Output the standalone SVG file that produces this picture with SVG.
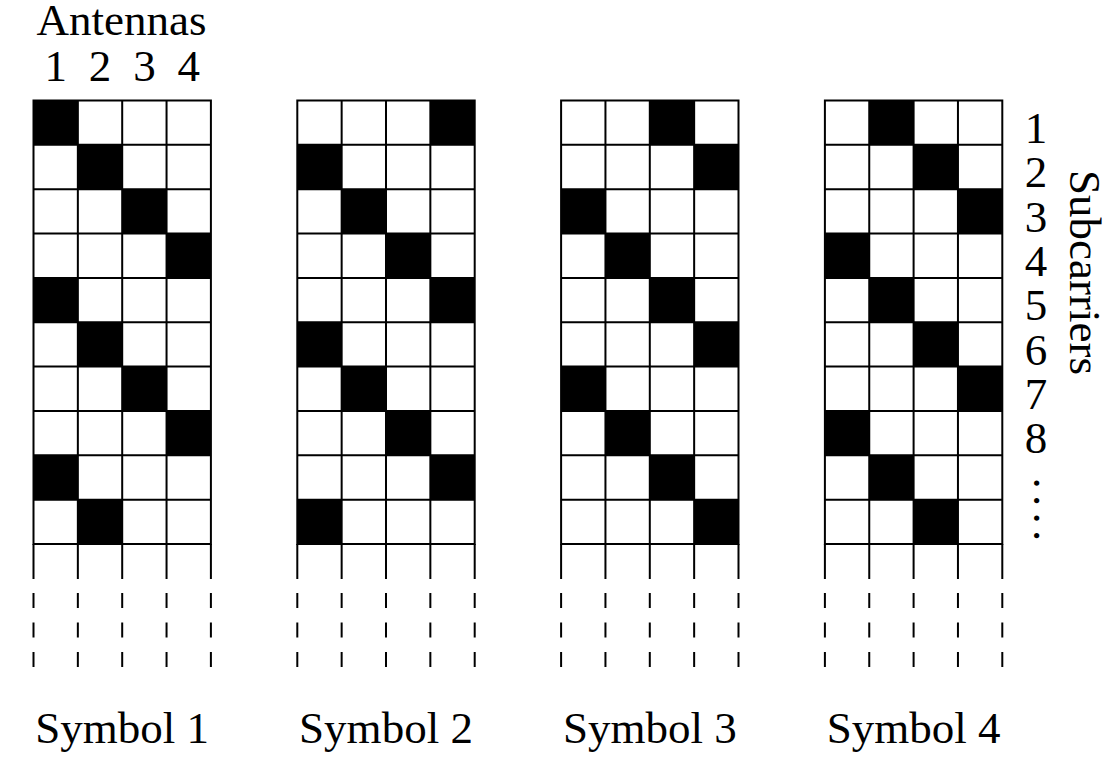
<svg xmlns="http://www.w3.org/2000/svg" xmlns:xlink="http://www.w3.org/1999/xlink" width="1114" height="762" viewBox="0 0 1114 762">
<style>
  .t { font-family: "Liberation Serif", "Times New Roman", serif; font-size: 45px; fill: #000; }
  .m { text-anchor: middle; }
  .ln { stroke: #000; stroke-width: 2; fill: none; }
  .dash { stroke: #000; stroke-width: 2; fill: none; stroke-dasharray: 35 14 15 14.5 15 14.5 15 200; }
  .on { fill: #000; }
</style>
<defs>
  <g id="gridLines">
    <rect class="ln" x="0" y="0" width="177.4" height="443.5"/>
    <path class="ln" d="M44.35,0V443.5M88.7,0V443.5M133.05,0V443.5
      M0,44.35H177.4M0,88.7H177.4M0,133.05H177.4M0,177.4H177.4M0,221.75H177.4
      M0,266.1H177.4M0,310.45H177.4M0,354.8H177.4M0,399.15H177.4"/>
    <path class="dash" d="M0,443.5V566.5M44.35,443.5V566.5M88.7,443.5V566.5M133.05,443.5V566.5M177.4,443.5V566.5"/>
  </g>
  <rect id="cell" width="44.35" height="44.35"/>
</defs>
<rect width="1114" height="762" fill="#fff"/>

<g id="antennas-label">
  <text class="t m" x="121.5" y="35">Antennas</text>
  <text class="t m" x="55.7" y="81">1</text>
  <text class="t m" x="100" y="81">2</text>
  <text class="t m" x="144.4" y="81">3</text>
  <text class="t m" x="188.7" y="81">4</text>
</g>

<g id="symbol1" transform="translate(33.5,100.5)">
  <g class="on">
    <use xlink:href="#cell" x="0" y="0"/>
    <use xlink:href="#cell" x="44.35" y="44.35"/>
    <use xlink:href="#cell" x="88.7" y="88.7"/>
    <use xlink:href="#cell" x="133.05" y="133.05"/>
    <use xlink:href="#cell" x="0" y="177.4"/>
    <use xlink:href="#cell" x="44.35" y="221.75"/>
    <use xlink:href="#cell" x="88.7" y="266.1"/>
    <use xlink:href="#cell" x="133.05" y="310.45"/>
    <use xlink:href="#cell" x="0" y="354.8"/>
    <use xlink:href="#cell" x="44.35" y="399.15"/>
  </g>
  <use xlink:href="#gridLines"/>
  <text class="t m" x="88.7" y="642.5">Symbol 1</text>
</g>

<g id="symbol2" transform="translate(297.3,100.5)">
  <g class="on">
    <use xlink:href="#cell" x="133.05" y="0"/>
    <use xlink:href="#cell" x="0" y="44.35"/>
    <use xlink:href="#cell" x="44.35" y="88.7"/>
    <use xlink:href="#cell" x="88.7" y="133.05"/>
    <use xlink:href="#cell" x="133.05" y="177.4"/>
    <use xlink:href="#cell" x="0" y="221.75"/>
    <use xlink:href="#cell" x="44.35" y="266.1"/>
    <use xlink:href="#cell" x="88.7" y="310.45"/>
    <use xlink:href="#cell" x="133.05" y="354.8"/>
    <use xlink:href="#cell" x="0" y="399.15"/>
  </g>
  <use xlink:href="#gridLines"/>
  <text class="t m" x="88.7" y="642.5">Symbol 2</text>
</g>

<g id="symbol3" transform="translate(561.1,100.5)">
  <g class="on">
    <use xlink:href="#cell" x="88.7" y="0"/>
    <use xlink:href="#cell" x="133.05" y="44.35"/>
    <use xlink:href="#cell" x="0" y="88.7"/>
    <use xlink:href="#cell" x="44.35" y="133.05"/>
    <use xlink:href="#cell" x="88.7" y="177.4"/>
    <use xlink:href="#cell" x="133.05" y="221.75"/>
    <use xlink:href="#cell" x="0" y="266.1"/>
    <use xlink:href="#cell" x="44.35" y="310.45"/>
    <use xlink:href="#cell" x="88.7" y="354.8"/>
    <use xlink:href="#cell" x="133.05" y="399.15"/>
  </g>
  <use xlink:href="#gridLines"/>
  <text class="t m" x="88.7" y="642.5">Symbol 3</text>
</g>

<g id="symbol4" transform="translate(824.9,100.5)">
  <g class="on">
    <use xlink:href="#cell" x="44.35" y="0"/>
    <use xlink:href="#cell" x="88.7" y="44.35"/>
    <use xlink:href="#cell" x="133.05" y="88.7"/>
    <use xlink:href="#cell" x="0" y="133.05"/>
    <use xlink:href="#cell" x="44.35" y="177.4"/>
    <use xlink:href="#cell" x="88.7" y="221.75"/>
    <use xlink:href="#cell" x="133.05" y="266.1"/>
    <use xlink:href="#cell" x="0" y="310.45"/>
    <use xlink:href="#cell" x="44.35" y="354.8"/>
    <use xlink:href="#cell" x="88.7" y="399.15"/>
  </g>
  <use xlink:href="#gridLines"/>
  <text class="t m" x="88.7" y="642.5">Symbol 4</text>
</g>

<g id="subcarriers-label">
  <text class="t m" x="1036" y="143">1</text>
  <text class="t m" x="1036" y="187.35">2</text>
  <text class="t m" x="1036" y="231.7">3</text>
  <text class="t m" x="1036" y="276.05">4</text>
  <text class="t m" x="1036" y="320.4">5</text>
  <text class="t m" x="1036" y="364.75">6</text>
  <text class="t m" x="1036" y="409.1">7</text>
  <text class="t m" x="1036" y="453.45">8</text>
  <text class="t" transform="translate(1033.7,477.4) rotate(90)" letter-spacing="6.25">....</text>
  <text class="t" transform="translate(1070,170) rotate(90)">Subcarriers</text>
</g>

<g id="connectors"></g>
</svg>
